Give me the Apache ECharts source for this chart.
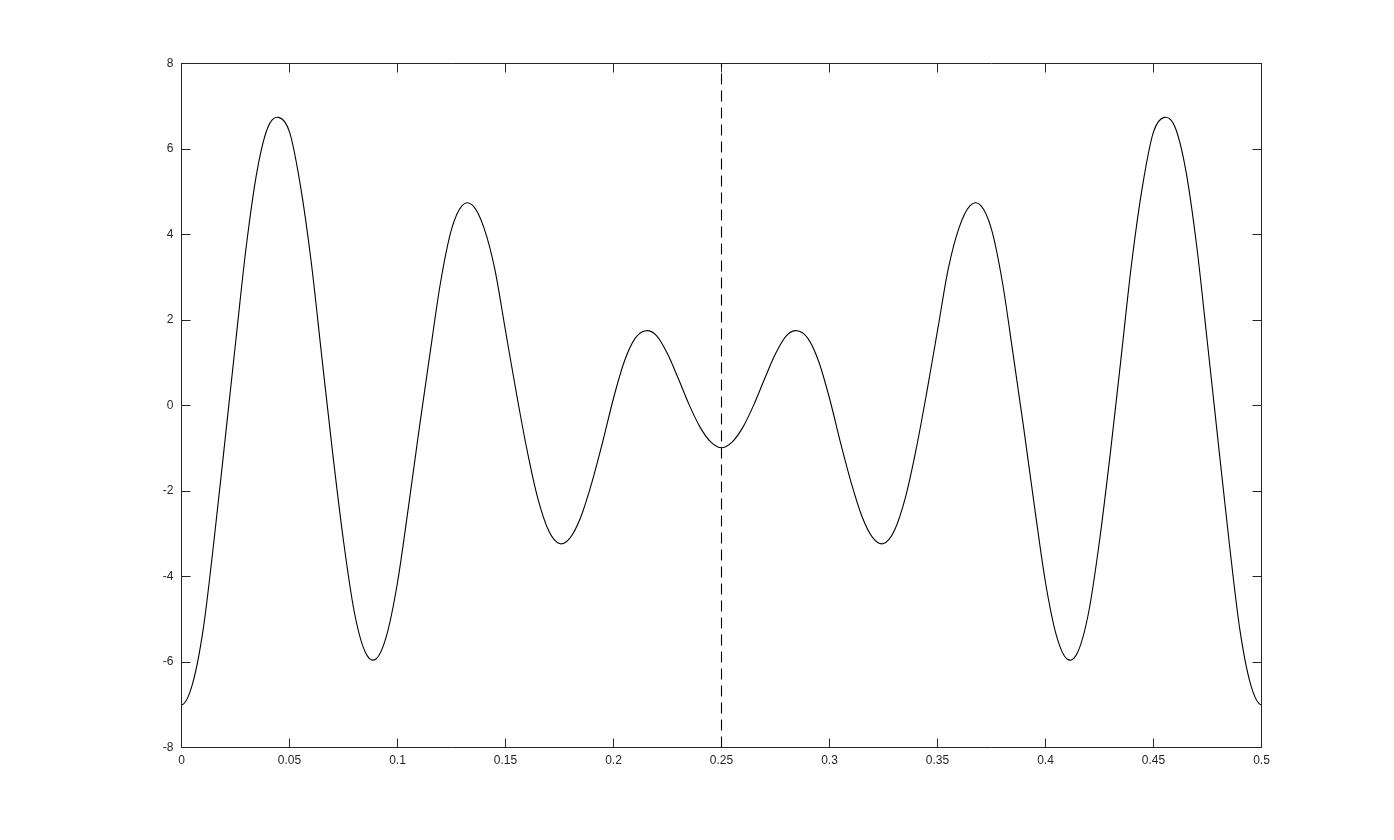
<!DOCTYPE html>
<html>
<head>
<meta charset="utf-8">
<script src="https://cdn.jsdelivr.net/npm/echarts@6/dist/echarts.min.js"></script>
<style>
html,body{margin:0;padding:0;background:#fff;}
#chart{width:1394px;height:840px;}
</style>
</head>
<body>
<div id="chart"></div>
<script>
// Curve samples
const xValues = [
  0, 0.005, 0.010, 0.015, 0.020, 0.025, 0.030, 0.035, 0.040, 0.045,
  0.050, 0.055, 0.060, 0.065, 0.070, 0.075, 0.080, 0.085, 0.090, 0.095,
  0.100, 0.105, 0.110, 0.115, 0.120, 0.125, 0.130, 0.135, 0.140,
  0.145, 0.150, 0.155, 0.160, 0.165, 0.170, 0.175, 0.180, 0.185, 0.190,
  0.195, 0.200, 0.205, 0.210, 0.215, 0.220, 0.225, 0.230, 0.235, 0.240,
  0.245, 0.250,
  0.255, 0.260, 0.265, 0.270, 0.275, 0.280, 0.285, 0.290, 0.295, 0.300,
  0.305, 0.310, 0.315, 0.320, 0.325, 0.330, 0.335, 0.340, 0.345, 0.350,
  0.355, 0.360, 0.365, 0.370, 0.375, 0.380, 0.385, 0.390, 0.395,
  0.400, 0.405, 0.410, 0.415, 0.420, 0.425, 0.430, 0.435, 0.440, 0.445,
  0.450, 0.455, 0.460, 0.465, 0.470, 0.475, 0.480, 0.485, 0.490, 0.495,
  0.500
];
const yValues = [
  -7.00, -6.53, -5.25, -3.18, -0.88, 1.45, 3.73, 5.49, 6.51, 6.74,
  6.40, 5.16, 3.38, 1.12, -1.12, -3.17, -4.83, -5.76, -5.93, -5.37,
  -4.14, -2.40, -0.56, 1.20, 2.90, 4.12, 4.68, 4.67, 4.16,
  3.20, 1.75, 0.30, -1.05, -2.18, -2.93, -3.23, -3.09, -2.59, -1.80,
  -0.85, 0.17, 1.03, 1.57, 1.75, 1.63, 1.21, 0.63, 0.02, -0.50,
  -0.85, -0.99,
  -0.85, -0.50, 0.02, 0.63, 1.21, 1.63, 1.75, 1.57, 1.03, 0.17,
  -0.85, -1.80, -2.59, -3.09, -3.23, -2.93, -2.18, -1.05, 0.30, 1.75,
  3.20, 4.16, 4.67, 4.68, 4.12, 2.90, 1.20, -0.56, -2.40,
  -4.14, -5.37, -5.93, -5.76, -4.83, -3.17, -1.12, 1.12, 3.38, 5.16,
  6.40, 6.74, 6.51, 5.49, 3.73, 1.45, -0.88, -3.18, -5.25, -6.53,
  -7.00
];
// Vertical dashed marker line
const dashX = [0.25, 0.25];
const dashY = [-8, 8];
// Axis ranges / ticks
const xMin = 0, xMax = 0.5, xStep = 0.05;
const yMin = -8, yMax = 8, yStep = 2;

const dash = dashX.map((x, i) => [x, dashY[i]]);

const axisColor = '#262626';
const font = '"Liberation Sans", Arial, Helvetica, sans-serif';
const tick = { show: true, inside: true, length: 9, lineStyle: { color: axisColor, width: 1 } };
const line = { show: true, onZero: false, lineStyle: { color: axisColor, width: 1 } };
const lbl = { color: axisColor, fontSize: 12, fontFamily: font };

// Smooth curve through the sampled points (cubic Hermite), mapped with the chart's own axes
function renderCurve(params, api) {
  const n = xValues.length;
  const m = xValues.map((x, i) => (i === 0 || i === n - 1) ? 0 :
    (yValues[i + 1] - yValues[i - 1]) / (xValues[i + 1] - xValues[i - 1]));
  const p0 = api.coord([xValues[0], yValues[0]]);
  let d = 'M' + p0[0] + ' ' + p0[1];
  for (let i = 0; i < n - 1; i++) {
    const h = xValues[i + 1] - xValues[i];
    const c1 = api.coord([xValues[i] + h / 3, yValues[i] + m[i] * h / 3]);
    const c2 = api.coord([xValues[i + 1] - h / 3, yValues[i + 1] - m[i + 1] * h / 3]);
    const p = api.coord([xValues[i + 1], yValues[i + 1]]);
    d += ' C' + c1[0] + ' ' + c1[1] + ' ' + c2[0] + ' ' + c2[1] + ' ' + p[0] + ' ' + p[1];
  }
  return {
    type: 'path',
    shape: { pathData: d },
    style: { fill: 'none', stroke: '#000000', lineWidth: 1.1 }
  };
}

const chart = echarts.init(document.getElementById('chart'), null, { renderer: 'canvas' });
chart.setOption({
  backgroundColor: '#ffffff',
  animation: false,
  grid: { left: 181.5, right: 132.5, top: 63.5, bottom: 92.5, containLabel: false },
  xAxis: [
    { type: 'value', position: 'bottom', min: xMin, max: xMax, interval: xStep,
      axisLine: line, axisTick: tick, splitLine: { show: false },
      axisLabel: Object.assign({ margin: 7 }, lbl) },
    { type: 'value', position: 'top', min: xMin, max: xMax, interval: xStep,
      axisLine: line, axisTick: tick, splitLine: { show: false },
      axisLabel: { show: false } }
  ],
  yAxis: [
    { type: 'value', position: 'left', min: yMin, max: yMax, interval: yStep,
      axisLine: line, axisTick: tick, splitLine: { show: false },
      axisLabel: Object.assign({ margin: 8 }, lbl) },
    { type: 'value', position: 'right', min: yMin, max: yMax, interval: yStep,
      axisLine: line, axisTick: tick, splitLine: { show: false },
      axisLabel: { show: false } }
  ],
  series: [
    { type: 'custom', coordinateSystem: 'cartesian2d', xAxisIndex: 0, yAxisIndex: 0,
      silent: true, clip: false,
      data: [[xValues[0], yValues[0]]],
      renderItem: renderCurve },
    { type: 'line', xAxisIndex: 0, yAxisIndex: 0, data: dash,
      showSymbol: false, symbol: 'none', silent: true,
      lineStyle: { color: '#000000', width: 1.1, type: [11, 6] } }
  ]
});
</script>
</body>
</html>
